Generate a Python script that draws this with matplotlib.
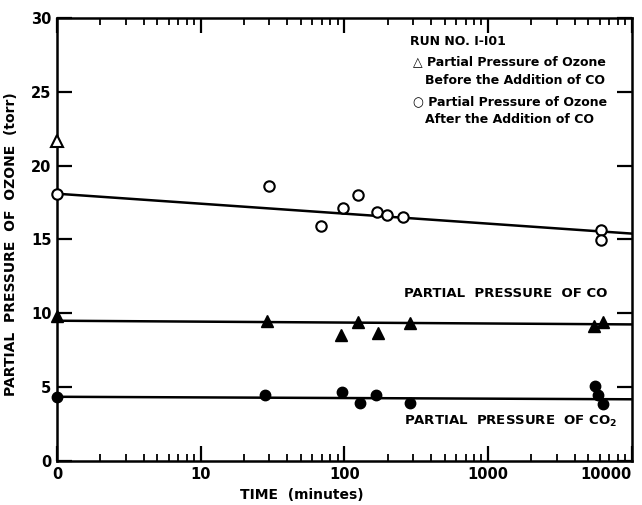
import matplotlib
matplotlib.use("Agg")
import matplotlib.pyplot as plt
from matplotlib.ticker import FixedLocator, NullFormatter, FixedFormatter
import numpy as np

# --- data (time in minutes; t=0 drawn at the log-axis origin 1) ---
ozone_before_t = [1]
ozone_before_p = [21.7]

ozone_after_t = [1, 30, 69, 98, 125, 169, 198, 255, 6080, 6080]
ozone_after_p = [18.1, 18.6, 15.9, 17.1, 18.0, 16.85, 16.65, 16.5, 15.65, 14.95]

co_t = [1, 29, 94, 125, 171, 288, 5460, 6310]
co_p = [9.8, 9.5, 8.55, 9.4, 8.65, 9.35, 9.15, 9.4]

co2_t = [1, 28, 96, 128, 165, 285, 5520, 5800, 6300]
co2_p = [4.35, 4.45, 4.65, 3.9, 4.45, 3.9, 5.1, 4.45, 3.85]

fit_t = [1, 10000]
ozone_fit = [18.1, 15.4]
co_fit = [9.5, 9.25]
co2_fit = [4.35, 4.18]

x_ticks = [1, 10, 100, 1000, 10000]
x_tick_labels = ["0", "10", "100", "1000", "10000"]
y_ticks = [0, 5, 10, 15, 20, 25, 30]
y_tick_labels = ["0", "5", "10", "15", "20", "25", "30"]

plt.rcParams['font.family'] = ['DejaVu Sans']
plt.rcParams['font.weight'] = 'bold'

fig = plt.figure(figsize=(6.42, 5.05), dpi=100)
ax = fig.add_axes([0.0888, 0.0871, 0.8952, 0.8773])
ax.set_xscale('log')
ax.set_xlim(1, 10000)
ax.set_ylim(0, 30)

lw = 1.8
ax.plot(fit_t, ozone_fit, color='black', lw=lw, zorder=2)
ax.plot(fit_t, co_fit, color='black', lw=lw, zorder=2)
ax.plot(fit_t, co2_fit, color='black', lw=lw, zorder=2)

ax.plot(ozone_before_t, ozone_before_p, linestyle='none', marker='^', ms=8,
        mfc='white', mec='black', mew=1.5, clip_on=False, zorder=4)
ax.plot(ozone_after_t, ozone_after_p, linestyle='none', marker='o', ms=7.5,
        mfc='white', mec='black', mew=1.5, clip_on=False, zorder=4)
ax.plot(co_t, co_p, linestyle='none', marker='^', ms=8,
        mfc='black', mec='black', clip_on=False, zorder=4)
ax.plot(co2_t, co2_p, linestyle='none', marker='o', ms=7.5,
        mfc='black', mec='black', clip_on=False, zorder=4)

ax.xaxis.set_major_locator(FixedLocator(x_ticks))
ax.xaxis.set_major_formatter(FixedFormatter(x_tick_labels))
minor = [m * 10**d for d in range(4) for m in range(2, 10)]
ax.xaxis.set_minor_locator(FixedLocator(minor))
ax.xaxis.set_minor_formatter(NullFormatter())
ax.yaxis.set_major_locator(FixedLocator(y_ticks))
ax.yaxis.set_major_formatter(FixedFormatter(y_tick_labels))

for s in ax.spines.values():
    s.set_linewidth(1.8)

ax.tick_params(axis='both', which='major', direction='in', length=11, width=1.6,
               top=True, right=True, labelsize=10.5, pad=4)
ax.tick_params(axis='x', which='minor', direction='in', length=5, width=1.3, top=True)
for lab in ax.get_xticklabels() + ax.get_yticklabels():
    lab.set_fontweight('bold')
ax.get_xticklabels()[-1].set_horizontalalignment('right')

ax.set_xlabel("TIME  (minutes)", fontsize=10, fontweight='bold')
ax.xaxis.set_label_coords(0.426, -0.060)
ax.set_ylabel("PARTIAL  PRESSURE  OF  OZONE  (torr)", fontsize=10,
              fontweight='bold')
ax.yaxis.set_label_coords(-0.068, 0.49)

ax.text(0.603, 0.377, "PARTIAL  PRESSURE  OF CO", transform=ax.transAxes,
        fontsize=9.5, fontweight='bold', va='center', ha='left')
ax.text(0.603, 0.090, "PARTIAL  PRESSURE  OF CO$_\\mathbf{2}$", transform=ax.transAxes,
        fontsize=9.5, fontweight='bold', va='center', ha='left')

lx = 0.614
ax.text(lx, 0.946, "RUN NO. I-I01", transform=ax.transAxes,
        fontsize=9, fontweight='bold', va='center')
ax.text(lx + 0.005, 0.901, "\u25b3 Partial Pressure of Ozone", transform=ax.transAxes,
        fontsize=9, fontweight='bold', va='center')
ax.text(lx + 0.026, 0.860, "Before the Addition of CO", transform=ax.transAxes,
        fontsize=9, fontweight='bold', va='center')
ax.text(lx + 0.005, 0.811, "\u25cb Partial Pressure of Ozone", transform=ax.transAxes,
        fontsize=9, fontweight='bold', va='center')
ax.text(lx + 0.026, 0.770, "After the Addition of CO", transform=ax.transAxes,
        fontsize=9, fontweight='bold', va='center')

fig.savefig("out.png", dpi=100)
